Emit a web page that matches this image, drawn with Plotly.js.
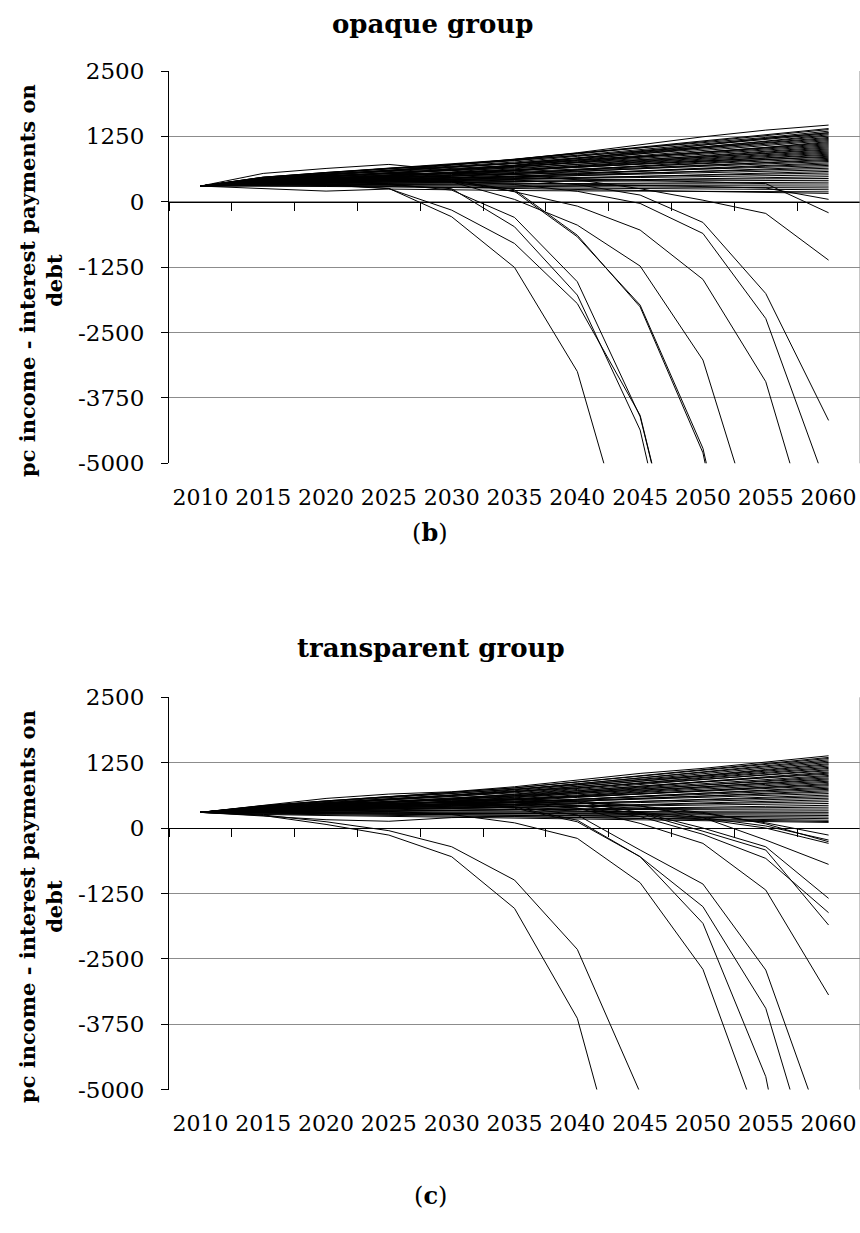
<!DOCTYPE html>
<html>
<head>
<meta charset="utf-8">
<script src="https://cdn.plot.ly/plotly-3.0.1.min.js"></script>
<style>
html,body{margin:0;padding:0;background:#fff;}
#chart{width:860px;height:1233px;}
</style>
</head>
<body>
<div id="chart"></div>
<script>
// ---------------- DATA ----------------
const years = ['2010','2015','2020','2025','2030','2035','2040','2045','2050','2055','2060'];
const yTicks = [2500, 1250, 0, -1250, -2500, -3750, -5000];
const titleB = 'opaque group';
const titleC = 'transparent group';
const yTitle = 'pc income - interest payments on<br>debt';

// (b) opaque group: lines that stay positive
const opaqueBand = [
  [300,542,637,714,600,700,830,960,1090,1210,1320],
  [300,470,560,640,720,810,937,1083,1242,1370,1466],
  [300,470,560,640,712,808,925,1045,1160,1275,1400],
  [300,455,545,628,700,795,915,1030,1140,1258,1380],
  [300,450,520,600,700,820,930,1030,1125,1230,1350],
  [300,468,552,630,695,785,890,998,1100,1208,1320],
  [300,438,525,602,670,760,868,975,1080,1186,1300],
  [300,455,550,640,710,790,880,965,1050,1160,1280],
  [300,430,512,588,650,738,840,945,1046,1150,1255],
  [300,445,522,595,655,738,836,935,1030,1126,1230],
  [300,420,480,540,600,690,800,920,1030,1120,1210],
  [300,460,532,598,655,732,824,915,1004,1096,1190],
  [300,410,486,555,614,694,790,884,975,1070,1170],
  [300,435,520,590,650,720,800,870,950,1040,1150],
  [300,400,474,540,596,674,764,856,944,1034,1130],
  [300,450,516,576,628,698,780,862,942,1024,1110],
  [300,390,440,500,570,660,760,850,930,1010,1090],
  [300,425,490,548,600,666,748,828,906,986,1070],
  [300,380,447,508,560,630,714,798,880,962,1050],
  [300,415,490,560,620,680,740,800,870,950,1030],
  [300,370,434,492,544,610,690,770,846,926,1010],
  [300,440,494,546,588,646,716,784,850,918,990],
  [300,360,400,450,510,590,680,760,830,900,970],
  [300,405,460,508,552,610,678,746,810,880,950],
  [300,395,448,498,540,596,662,730,794,860,930],
  [300,350,420,480,530,590,650,710,770,840,910],
  [300,430,476,518,554,602,660,718,772,830,890],
  [300,345,398,446,486,542,608,674,736,802,870],
  [300,385,420,450,490,540,610,690,760,810,850],
  [300,420,460,498,530,574,626,676,726,776,830],
  [300,340,388,428,466,516,576,634,690,748,810],
  [300,375,430,480,520,560,600,650,700,745,790],
  [300,400,438,470,500,540,584,632,676,722,770],
  [300,335,376,414,446,488,540,590,640,692,745],
  [300,365,390,415,440,480,530,590,640,680,720],
  [300,410,438,464,486,516,552,588,622,658,695],
  [300,330,364,394,422,458,500,542,584,626,670],
  [300,360,400,430,460,490,520,550,580,610,640],
  [300,390,412,432,450,472,500,528,554,582,610],
  [300,325,350,374,394,420,452,484,516,546,580],
  [300,350,380,400,420,440,460,480,505,530,550],
  [300,380,394,406,416,430,448,464,480,498,515],
  [300,320,336,350,362,380,400,420,440,458,480],
  [300,345,370,390,400,410,420,425,430,438,445],
  [300,370,374,378,380,385,390,395,400,405,410],
  [300,320,326,330,335,340,348,355,360,368,375],
  [300,340,340,338,338,340,340,338,340,340,340],
  [300,330,326,322,320,316,312,310,306,304,300],
  [300,320,312,306,300,292,286,280,276,270,265],
  [300,300,292,284,276,266,258,250,244,236,230],
  [300,255,204,243,225,215,208,202,198,195,190],
  [300,330,310,290,270,250,230,210,195,178,160]
];
// (b) opaque group: lines that turn negative
const opaqueFalling = [
  [300,380,330,256,-287,-1255,-3245,-7400,-14000,-25000,-45000],
  [300,360,320,250,-160,-797,-1946,-4083,-9000,-17000,-31000],
  [300,390,380,340,223,-299,-1529,-4108,-9000,-17000,-30000],
  [300,370,360,320,250,-478,-1784,-4364,-9600,-18000,-33000],
  [300,400,420,420,380,45,-446,-1229,-3026,-6900,-14000],
  [300,420,450,460,420,191,-83,-541,-1484,-3440,-7490],
  [300,380,400,410,380,200,-669,-1975,-4714,-10000,-20000],
  [300,400,430,440,400,230,-640,-2010,-4800,-10500,-21000],
  [300,420,450,480,470,420,330,128,-395,-1755,-4180],
  [300,380,400,410,390,330,200,-32,-606,-2233,-5540],
  [300,450,500,540,540,520,420,250,30,-223,-1116],
  [300,400,430,450,460,460,440,410,380,347,-210],
  [300,350,360,370,370,360,340,310,290,263,46]
];

// (c) transparent group: lines that stay positive
const transparentBand = [
  [300,440,567,650,694,790,917,1045,1141,1268,1382],
  [300,420,512,598,672,768,884,1000,1112,1230,1350],
  [300,430,520,600,674,768,880,992,1100,1212,1330],
  [300,400,470,550,630,730,845,960,1070,1190,1305],
  [300,415,502,580,648,740,848,956,1060,1168,1280],
  [300,390,476,554,624,714,822,930,1034,1142,1255],
  [300,425,520,600,660,740,830,920,1010,1120,1230],
  [300,380,464,538,604,690,794,898,998,1102,1210],
  [300,405,482,552,616,698,796,892,986,1084,1185],
  [300,370,430,495,560,650,760,870,970,1065,1160],
  [300,395,470,536,596,674,768,860,950,1042,1140],
  [300,360,436,504,564,644,738,832,922,1016,1115],
  [300,410,490,560,620,690,770,850,930,1010,1095],
  [300,350,422,486,544,620,710,800,886,976,1070],
  [300,385,452,512,564,634,718,800,880,964,1050],
  [300,340,390,450,510,590,690,790,880,960,1030],
  [300,375,438,494,546,612,690,768,844,922,1005],
  [300,335,400,458,510,578,660,742,820,900,985],
  [300,365,440,500,550,610,680,750,820,890,960],
  [300,330,392,446,494,560,634,712,784,860,940],
  [300,400,452,498,540,596,660,724,788,852,920],
  [300,325,370,420,470,540,620,700,770,835,895],
  [300,355,406,454,496,550,614,680,742,808,875],
  [300,320,374,420,464,518,586,650,714,780,850],
  [300,345,410,460,500,545,600,660,720,775,830],
  [300,380,422,462,496,540,596,648,700,754,810],
  [300,315,362,404,442,492,550,608,666,724,785],
  [300,340,370,400,440,490,550,610,665,715,760],
  [300,360,398,432,462,502,550,598,644,690,740],
  [300,310,350,388,420,462,512,564,612,662,715],
  [300,335,380,420,455,490,530,570,610,650,690],
  [300,370,398,424,448,478,516,552,586,622,660],
  [300,305,338,366,392,428,468,508,548,588,630],
  [300,330,370,400,425,450,480,510,540,570,600],
  [300,350,372,392,410,432,460,488,514,540,570],
  [300,300,324,346,364,390,420,450,478,508,540],
  [300,325,350,370,385,400,420,440,465,485,505],
  [300,345,358,368,380,392,408,424,438,454,470],
  [300,290,304,318,330,344,362,380,398,416,435],
  [300,315,324,332,338,346,358,366,376,388,400],
  [300,335,338,340,344,346,350,354,356,360,365],
  [300,295,298,302,306,310,314,318,322,326,330],
  [300,310,308,306,306,304,304,302,302,300,300],
  [300,285,284,282,280,278,276,274,272,272,270],
  [300,300,292,285,278,272,265,258,252,246,240],
  [300,280,272,264,256,248,240,232,224,218,210],
  [300,290,278,266,254,242,230,218,204,192,180],
  [300,270,256,244,232,218,206,192,178,164,150],
  [300,230,160,130,200,220,200,180,160,142,125],
  [300,260,240,222,206,190,174,156,140,124,108]
];
// (c) transparent group: lines that turn negative
const transparentFalling = [
  [300,250,121,-50,-357,-994,-2319,-5060,-11000,-21000,-40000],
  [300,240,70,-134,-548,-1535,-3637,-8020,-16000,-30000,-55000],
  [300,350,340,320,260,100,-197,-1045,-2701,-6000,-12000],
  [300,380,420,450,460,400,150,-548,-1822,-4752,-10700],
  [300,360,400,420,430,380,120,-548,-1503,-3446,-7466],
  [300,370,410,440,450,410,250,-420,-1070,-2714,-6083],
  [300,390,440,480,500,490,380,89,-293,-1185,-3191],
  [300,400,450,500,530,540,500,300,0,-357,-1344],
  [300,370,410,440,460,450,380,220,-120,-580,-1618],
  [300,390,440,470,490,490,430,280,-60,-420,-1854],
  [300,410,470,510,540,560,520,420,200,-229,-694],
  [300,380,420,440,450,450,430,380,280,100,-134],
  [300,360,390,400,400,390,360,300,200,40,-229],
  [300,400,450,480,500,500,480,420,300,80,-261],
  [300,340,360,370,370,360,330,270,170,0,-293]
];

// ---------------- TRACES ----------------
const traces = [];
function addLines(list, xa, ya) {
  list.forEach(function (vals) {
    traces.push({
      type: 'scatter', mode: 'lines', x: years, y: vals,
      xaxis: xa, yaxis: ya,
      line: {color: '#000', width: 1},
      hoverinfo: 'skip', showlegend: false
    });
  });
}
addLines(opaqueBand, 'x', 'y');
addLines(opaqueFalling, 'x', 'y');
addLines(transparentBand, 'x2', 'y2');
addLines(transparentFalling, 'x2', 'y2');

// ---------------- LAYOUT ----------------
const W = 860, H = 1233;
const tickFont = {family: 'DejaVu Serif, serif', size: 22, color: '#000'};
const xDom = [169 / W, 1];

function xAxis(pos) {
  return {
    domain: xDom, anchor: 'free', position: pos,
    type: 'category', categoryorder: 'array', categoryarray: years,
    range: [-0.5, 10.5], tickson: 'boundaries',
    ticks: 'outside', ticklen: 8, tickwidth: 1, tickcolor: '#000',
    showline: true, linecolor: '#000', linewidth: 1,
    showgrid: false, zeroline: false, tickangle: 0,
    tickfont: tickFont, ticklabelstandoff: 276, fixedrange: true
  };
}
function yAxis(dom, anchor) {
  return {
    domain: dom, anchor: anchor,
    range: [-5000, 2500], tickmode: 'array', tickvals: yTicks,
    ticktext: yTicks.map(String),
    ticks: 'outside', ticklen: 7, tickwidth: 1, tickcolor: '#000',
    showline: true, linecolor: '#000', linewidth: 1,
    showgrid: true, gridcolor: '#8c8c8c', gridwidth: 1,
    zeroline: false, tickfont: {family: 'DejaVu Serif, serif', size: 23, color: '#000'},
    ticklabelstandoff: 12, fixedrange: true
  };
}

const yDomTop = [1 - 463.3 / H, 1 - 71 / H];
const yDomBot = [1 - 1089.6 / H, 1 - 697.3 / H];
const zeroTop = 1 - 201.7 / H;
const zeroBot = 1 - 828 / H;

const titleFont = {family: 'DejaVu Serif, serif', size: 26, color: '#000'};
const axTitleFont = {family: 'DejaVu Serif, serif', size: 21, color: '#000'};
const labelFont = {family: 'DejaVu Serif, serif', size: 24, color: '#000'};

const layout = {
  width: W, height: H,
  margin: {l: 0, r: 0, t: 0, b: 0},
  paper_bgcolor: '#fff', plot_bgcolor: '#fff',
  showlegend: false,
  xaxis: xAxis(zeroTop),
  yaxis: yAxis(yDomTop, 'x'),
  xaxis2: xAxis(zeroBot),
  yaxis2: yAxis(yDomBot, 'x2'),
  shapes: [
    {type: 'line', xref: 'x domain', yref: 'y domain', x0: 1, x1: 1, y0: 0, y1: 1,
     line: {color: '#8c8c8c', width: 1}},
    {type: 'line', xref: 'x2 domain', yref: 'y2 domain', x0: 1, x1: 1, y0: 0, y1: 1,
     line: {color: '#8c8c8c', width: 1}}
  ],
  annotations: [
    {text: '<b>' + titleB + '</b>', xref: 'paper', yref: 'paper', x: 432 / W, y: 1 - 24 / H,
     xanchor: 'center', yanchor: 'middle', showarrow: false, font: titleFont},
    {text: '<b>' + titleC + '</b>', xref: 'paper', yref: 'paper', x: 431 / W, y: 1 - 648 / H,
     xanchor: 'center', yanchor: 'middle', showarrow: false, font: titleFont},
    {text: '<b>' + yTitle + '</b>', xref: 'paper', yref: 'paper', x: 41 / W, y: 1 - 281 / H,
     xanchor: 'center', yanchor: 'middle', textangle: -90, showarrow: false, font: axTitleFont},
    {text: '<b>' + yTitle + '</b>', xref: 'paper', yref: 'paper', x: 41 / W, y: 1 - 907 / H,
     xanchor: 'center', yanchor: 'middle', textangle: -90, showarrow: false, font: axTitleFont},
    {text: '(<b>b</b>)', xref: 'paper', yref: 'paper', x: 430 / W, y: 1 - 532 / H,
     xanchor: 'center', yanchor: 'middle', showarrow: false, font: labelFont},
    {text: '(<b>c</b>)', xref: 'paper', yref: 'paper', x: 430 / W, y: 1 - 1195 / H,
     xanchor: 'center', yanchor: 'middle', showarrow: false, font: labelFont}
  ]
};

Plotly.newPlot('chart', traces, layout, {displayModeBar: false, staticPlot: true});
</script>
</body>
</html>
